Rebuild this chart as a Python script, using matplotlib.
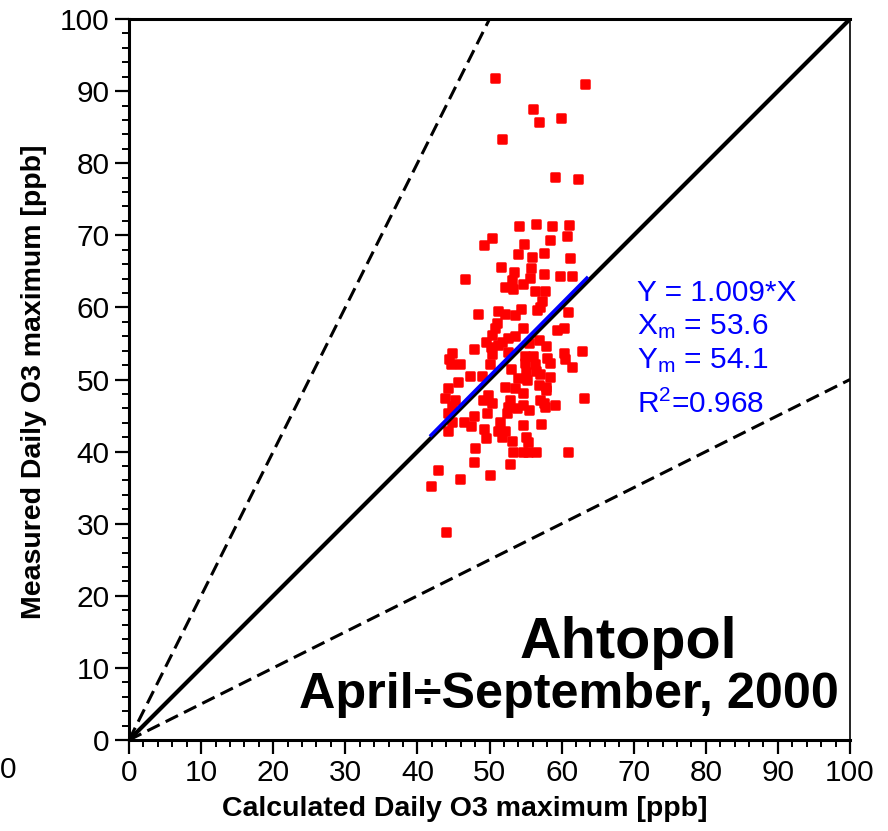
import matplotlib
matplotlib.use("Agg")
import matplotlib.pyplot as plt
import numpy as np
from matplotlib.ticker import MultipleLocator

plt.rcParams['font.family'] = ['Liberation Sans', 'DejaVu Sans']
plt.rcParams['mathtext.fontset'] = 'custom'
plt.rcParams['mathtext.rm'] = 'Liberation Sans'
plt.rcParams['mathtext.it'] = 'Liberation Sans'
plt.rcParams['mathtext.bf'] = 'Liberation Sans:bold'

# Calculated (x) and measured (y) daily O3 maxima [ppb]
calc = [50.8, 63.2, 56.1, 56.8, 59.9, 51.8, 59.1, 62.3,
        54.1, 56.4, 58.6, 61.0, 50.3, 49.3, 58.4, 60.8, 54.8, 54.0, 55.9, 57.6,
        61.1, 51.6, 55.8, 53.4, 53.1, 57.5, 59.8, 61.4, 46.6, 55.6, 54.7, 52.1,
        53.3, 56.3, 57.7, 57.3, 57.0, 56.6, 54.3, 53.5, 51.2, 52.1, 48.4, 60.9,
        54.7, 51.0, 50.7, 50.4, 52.6, 51.8, 49.5, 50.2, 47.8, 51.2, 57.9, 56.8,
        59.3, 60.3, 60.3, 62.8, 44.8, 44.4, 44.7, 45.9, 50.3, 50.1, 54.9, 56.1,
        54.9, 56.3, 58.4, 61.4,
        47.3, 45.6, 44.3, 52.1, 53.5, 55.2, 56.8, 57.9, 58.4, 54.7, 49.8, 43.8,
        45.2, 49.1, 50.3, 52.8, 57.0, 57.5, 59.1, 63.1, 44.8, 52.6, 53.8, 54.7,
        55.5, 57.7, 44.3, 49.6, 52.4, 47.8, 44.8, 46.4, 51.5, 47.5, 54.7, 57.2,
        44.3, 49.3, 51.2, 52.1, 51.7, 55.1, 49.5, 53.1, 55.4, 48.0, 53.3, 54.7,
        55.4, 56.4, 60.9, 47.8, 52.8, 42.8, 50.1, 45.9, 41.9, 43.9,
        53.0, 55.0, 57.0, 54.0, 56.5, 58.0, 52.5, 55.5, 53.6, 49.0, 60.5, 57.8]
meas = [91.8, 91.0, 87.5, 85.7, 86.3, 83.3, 78.1, 77.8,
        71.3, 71.6, 71.3, 71.5, 69.6, 68.7, 69.4, 69.9, 68.8, 67.4, 67.0, 67.6,
        66.8, 65.6, 65.5, 64.9, 63.8, 64.7, 64.3, 64.3, 64.0, 64.1, 63.3, 62.8,
        62.6, 62.3, 62.3, 60.9, 60.1, 59.6, 59.8, 58.9, 59.5, 59.1, 59.1, 59.4,
        57.2, 57.9, 57.2, 56.2, 55.7, 55.2, 55.2, 54.5, 54.3, 54.8, 54.7, 55.5,
        56.9, 57.1, 53.7, 54.0, 53.7, 52.8, 52.2, 52.2, 53.6, 52.2, 53.2, 53.2,
        52.3, 52.2, 52.3, 51.8,
        50.5, 49.7, 48.8, 49.0, 48.8, 49.9, 49.2, 49.0, 50.4, 48.1, 47.9, 47.5,
        47.2, 47.2, 46.8, 47.2, 47.2, 46.7, 46.5, 47.4, 46.3, 46.2, 46.0, 46.5,
        45.8, 46.2, 45.3, 45.4, 45.3, 44.9, 44.1, 44.1, 44.1, 43.5, 43.7, 43.8,
        42.9, 43.2, 42.9, 42.8, 42.0, 42.0, 41.9, 41.5, 41.4, 40.5, 40.0, 39.9,
        40.0, 39.9, 39.9, 38.6, 38.3, 37.4, 36.7, 36.2, 35.2, 28.9,
        51.5, 51.0, 50.8, 50.2, 51.2, 53.0, 53.8, 55.0, 56.0, 50.5, 52.8, 48.5]

slope = 1.009
xm, ym, r2 = 53.6, 54.1, 0.968
fit_x = [41.9, 63.5]
upper_factor, lower_factor = 2.0, 0.5

fig = plt.figure(figsize=(8.88, 8.31), dpi=100)
ax = fig.add_axes([0.1453, 0.1095, 0.8119, 0.8676])

ax.plot([0, 100], [0, 100 * upper_factor], ls=(0, (4.5, 2.2)), color='black', lw=2.2, zorder=2)
ax.plot([0, 100], [0, 100 * lower_factor], ls=(0, (4.5, 2.2)), color='black', lw=2.2, zorder=2)
ax.scatter(calc, meas, s=26, marker='s', color='#ff0000', edgecolors='#ff0000',
           linewidths=1.8, joinstyle='round', zorder=3)
ax.plot([0, 100], [0, 100], color='black', lw=3.0, zorder=4)
fx = np.array(fit_x)
ax.plot(fx, slope * fx, color='#0000ff', lw=2.5, zorder=5)

ax.set_xlim(0, 100)
ax.set_ylim(0, 100)
ax.xaxis.set_major_locator(MultipleLocator(10))
ax.xaxis.set_minor_locator(MultipleLocator(2))
ax.yaxis.set_major_locator(MultipleLocator(10))
ax.yaxis.set_minor_locator(MultipleLocator(2))
ax.tick_params(which='major', direction='out', length=10, width=1.6, labelsize=21.5, pad=4)
ax.tick_params(which='minor', direction='out', length=5, width=1.4)
ax.tick_params(top=False, right=False)
for s in ['left', 'bottom', 'top']:
    ax.spines[s].set_linewidth(2.2)
ax.spines['right'].set_linewidth(1.2)

ax.set_xlabel('Calculated Daily O3 maximum [ppb]', fontsize=20.5, fontweight='bold')
ax.set_ylabel('Measured Daily O3 maximum [ppb]', fontsize=20.5, fontweight='bold')
ax.xaxis.set_label_coords(0.466, -0.078)
ax.yaxis.set_label_coords(-0.114, 0.497)

blue = '#0000ff'
ax.text(70.5, 62.0, 'Y = 1.009*X', color=blue, fontsize=21.5, va='center', ha='left')
ax.text(70.5, 57.4, r'X$_\mathrm{m}$ = ' + f'{xm}', color=blue, fontsize=21.5, va='center', ha='left')
ax.text(70.5, 52.6, r'Y$_\mathrm{m}$ = ' + f'{ym}', color=blue, fontsize=21.5, va='center', ha='left')
ax.text(70.5, 46.6, r'R$^\mathrm{2}$=' + f'{r2}', color=blue, fontsize=21.5, va='center', ha='left')

ax.text(69.2, 13.5, 'Ahtopol', fontsize=41.5, fontweight='bold', ha='center', va='center')
ax.text(98.4, 6.3, 'April\u00f7September, 2000', fontsize=36.3, fontweight='bold', ha='right', va='center')

fig.text(0.0, 0.073, '0', fontsize=21.5, ha='left', va='center')

fig.savefig('out.png', dpi=100)
